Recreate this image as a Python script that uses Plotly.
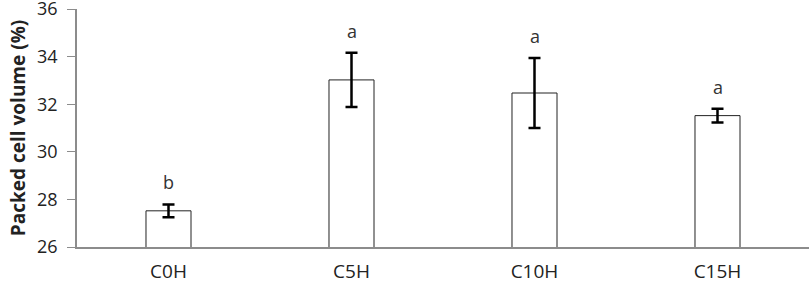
import plotly.graph_objects as go

categories = ["C0H", "C5H", "C10H", "C15H"]
values = [27.52, 33.02, 32.47, 31.52]
errors = [0.27, 1.14, 1.47, 0.29]
letters = ["b", "a", "a", "a"]
y_ticks = [26, 28, 30, 32, 34, 36]

font_family = "Open Sans, Liberation Sans, sans-serif"

fig = go.Figure()
fig.add_trace(go.Bar(
    x=categories, y=values,
    marker=dict(color="white", line=dict(color="#222222", width=1)),
    error_y=dict(type="data", array=errors, visible=True, color="black",
                 thickness=2.5, width=6),
    width=0.246,
    cliponaxis=False,
))

for c, v, e, t in zip(categories, values, errors, letters):
    fig.add_annotation(x=c, y=v + e, text=t, showarrow=False,
                       yanchor="bottom", yshift=8,
                       font=dict(family=font_family, size=18, color="#333333"))

fig.update_layout(
    width=809, height=286,
    margin=dict(l=77, r=0, t=9, b=39, autoexpand=False),
    plot_bgcolor="white", paper_bgcolor="white",
    showlegend=False,
    font=dict(family=font_family, size=16, color="#222222"),
)
fig.update_xaxes(showline=True, linecolor="#8c8c8c", linewidth=1.5,
                 ticks="", showgrid=False, automargin=False,
                 ticklabelstandoff=6,
                 tickfont=dict(size=19, family=font_family))
fig.update_yaxes(range=[26, 36], tickvals=y_ticks, showline=True,
                 linecolor="#8c8c8c", linewidth=1.5, ticks="outside",
                 ticklen=8, tickcolor="#8c8c8c", showgrid=False,
                 zeroline=False, automargin=False,
                 ticklabeloverflow="allow",
                 tickfont=dict(size=18, family=font_family),
                 ticklabelstandoff=6,
                 title=dict(text="<b>Packed cell volume (%)</b>",
                            font=dict(size=19, family=font_family), standoff=6))

fig.write_html("out.html", config={"displayModeBar": False},
               post_script="document.body.style.margin='0';document.documentElement.style.overflow='hidden';")
